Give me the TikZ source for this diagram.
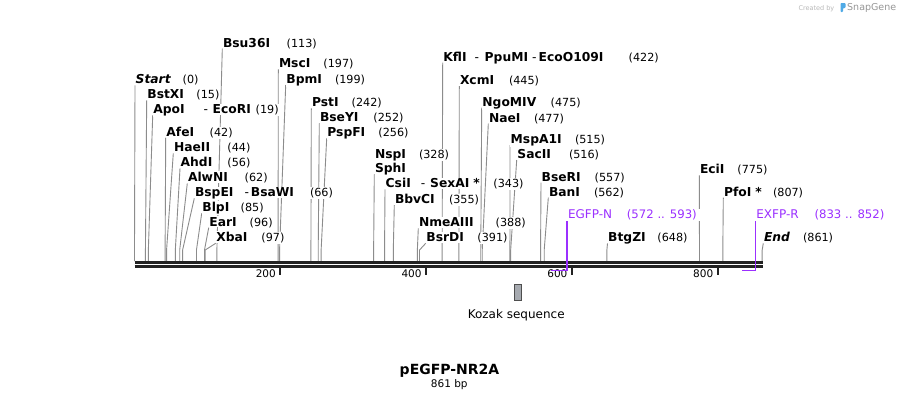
\documentclass[tikz,border=0pt]{standalone}
\usepackage{fontspec}
\setmainfont{DejaVu Sans}
\pgfdeclarelayer{bg}
\pgfsetlayers{bg,main}
\definecolor{sline}{RGB}{140,140,140}
\definecolor{bbone}{RGB}{34,34,34}
\definecolor{primer}{RGB}{155,48,255}
\definecolor{kozakfill}{RGB}{166,170,176}
\definecolor{sgblue}{RGB}{80,170,230}
\definecolor{sggray}{RGB}{150,150,150}
\definecolor{sglight}{RGB}{185,185,185}
\tikzset{
  siteline/.style={draw=sline, line width=0.9pt},
  ename/.style={anchor=base west, inner xsep=0.5pt, inner ysep=1pt, fill=white, font=\fontsize{12.3}{14}\selectfont\bfseries},
  esep/.style={anchor=base west, inner xsep=0.5pt, inner ysep=1pt, fill=white, font=\fontsize{12.3}{14}\selectfont},
  enum/.style={anchor=base west, inner xsep=0.5pt, inner ysep=1pt, fill=white, font=\fontsize{11.2}{13}\selectfont},
  plabel/.style={anchor=base west, inner xsep=0.5pt, inner ysep=1pt, fill=white, text=primer, font=\fontsize{12}{14}\selectfont},
  pnum/.style={anchor=base west, inner xsep=6pt, inner ysep=1pt, fill=white, text=primer, font=\fontsize{11.7}{14}\selectfont},
  primerline/.style={draw=primer, line width=1.4pt},
  tickmark/.style={draw=bbone, line width=2pt},
  ticklabel/.style={anchor=base east, inner sep=0.5pt, font=\fontsize{10.5}{12}\selectfont},
}
\newcommand\cutline[4]{%
  \coordinate (#1-top) at (#2,#3+6);
  \coordinate (#1-bend) at ({134.5+#4*0.729},250);
  \coordinate (#1-site) at ({134.5+#4*0.729},261);
  \begin{pgfonlayer}{bg}
    \draw[siteline] (#1-top) -- (#1-bend) -- (#1-site);
  \end{pgfonlayer}}
\newcommand\enz[7]{%
  \cutline{#1}{#3}{#4}{#7}
  \node[ename] (#1) at (#3,#4+4.4) {#2};
  \node[enum] (#1-n) at (#5,#4+4.4) {#6};}
\begin{document}
\begin{tikzpicture}[x=1pt,y=-1pt]
\useasboundingbox (0,0) rectangle (899,400);
\begin{pgfonlayer}{bg}
  \fill[white] (0,0) rectangle (899,400);
\end{pgfonlayer}

% enzyme sites
\enz{start}{\textit{Start}}{135}{79.3}{182}{(0)}{0}
\enz{bstxi}{BstXI}{146.7}{94.3}{195.7}{(15)}{15}
\enz{apoi}{ApoI}{152.7}{109.3}{255}{(19)}{19}
\node[esep] (apoi-d) at (203,113.7) {-};
\node[ename] (apoi-b) at (212,113.7) {EcoRI};
\enz{afei}{AfeI}{165.7}{131.7}{209}{(42)}{42}
\enz{haeii}{HaeII}{173.3}{147.3}{226.7}{(44)}{44}
\enz{ahdi}{AhdI}{180}{162.3}{226.7}{(56)}{56}
\enz{alwni}{AlwNI}{187.3}{177.3}{244}{(62)}{62}
\enz{bspei}{BspEI}{194.3}{192.3}{309.3}{(66)}{66}
\node[esep] (bspei-d) at (244,196.7) {-};
\node[ename] (bspei-b) at (250.2,196.7) {BsaWI};
\enz{blpi}{BlpI}{201.7}{207.3}{240}{(85)}{85}
\enz{eari}{EarI}{208.7}{221.7}{249}{(96)}{96}
\enz{xbai}{XbaI}{215.7}{237.3}{260.7}{(97)}{97}
\enz{bsu}{Bsu36I}{222.3}{42.7}{286}{(113)}{113}
\enz{msci}{MscI}{278.3}{63.3}{322.7}{(197)}{197}
\enz{bpmi}{BpmI}{285.7}{79}{334.3}{(199)}{199}
\enz{psti}{PstI}{311.3}{102.3}{351}{(242)}{242}
\enz{bseyi}{BseYI}{319.3}{117.3}{372.7}{(252)}{252}
\enz{pspfi}{PspFI}{326.7}{132.3}{377.7}{(256)}{256}
\cutline{sphi}{374.3}{168.3}{328}
\node[ename] (nspi) at (374.3,158.4) {NspI};
\node[enum] (nspi-n) at (418.3,158.4) {(328)};
\node[ename] (sphi) at (374.3,172.7) {SphI};
\enz{csii}{CsiI}{385}{183.3}{492.7}{(343)}{343}
\node[esep] (csii-d) at (420.2,187.7) {-};
\node[ename] (csii-b) at (429.5,187.7) {SexAI\hspace{4pt}*};
\enz{bbvci}{BbvCI}{394.3}{199}{448.3}{(355)}{355}
\enz{nme}{NmeAIII}{418.3}{222.3}{495}{(388)}{388}
\enz{bsrdi}{BsrDI}{425.7}{237.3}{476.7}{(391)}{391}
\enz{kfli}{KflI}{442.7}{56.7}{628}{(422)}{422}
\node[esep] (kfli-d1) at (474,61.1) {-};
\node[ename] (kfli-b) at (484,61.1) {PpuMI};
\node[esep] (kfli-d2) at (531.5,61.1) {-};
\node[ename] (kfli-c) at (538,61.1) {EcoO109I};
\enz{xcmi}{XcmI}{459.3}{80}{508.3}{(445)}{445}
\enz{ngo}{NgoMIV}{481.7}{101.7}{550}{(475)}{475}
\enz{naei}{NaeI}{488.3}{117.7}{533.3}{(477)}{477}
\enz{mspa}{MspA1I}{510}{139}{574.3}{(515)}{515}
\enz{sacii}{SacII}{516.7}{154}{568.3}{(516)}{516}
\enz{bseri}{BseRI}{541}{176.7}{594}{(557)}{557}
\enz{bani}{BanI}{548.3}{191.7}{593.3}{(562)}{562}
\enz{btgzi}{BtgZI}{607.5}{237.3}{656.7}{(648)}{648}
\enz{ecii}{EciI}{699.3}{169.3}{736.7}{(775)}{775}
\enz{pfoi}{PfoI\hspace{4pt}*}{723.3}{191.7}{772.3}{(807)}{807}
\enz{end}{\textit{End}}{763.3}{237.3}{802.3}{(861)}{861}

% backbone
\coordinate (bbL1) at (134.5,262.4);
\coordinate (bbR1) at (763,262.4);
\coordinate (bbL2) at (134.5,266.4);
\coordinate (bbR2) at (763,266.4);
\draw[bbone, line width=3pt] (bbL1) -- (bbR1);
\draw[bbone, line width=2.6pt] (bbL2) -- (bbR2);

% ticks
\foreach \v in {200,400,600,800}{
  \coordinate (tk\v) at ({134.5+\v*0.729},267.7);
  \draw[tickmark] (tk\v) -- ++(0,7);
  \node[ticklabel] (tl\v) at ({134.5+\v*0.729-3.8},277.8) {\v};
}

% primers
\node[plabel] (egfpn) at (567.3,218.4) {EGFP-N};
\node[pnum] (egfpn-n) at (620.7,218.4) {(572 .. 593)};
\coordinate (egfpn-top) at ({134.5+593*0.729},221);
\coordinate (egfpn-c) at ({134.5+593*0.729},270.7);
\coordinate (egfpn-s) at ({134.5+572*0.729},270.7);
\draw[primerline] (egfpn-top) -- (egfpn-c) -- (egfpn-s);

\node[plabel] (exfpr) at (755.7,218.4) {EXFP-R};
\node[pnum] (exfpr-n) at (808.3,218.4) {(833 .. 852)};
\coordinate (exfpr-top) at ({134.5+852*0.729},221);
\coordinate (exfpr-c) at ({134.5+852*0.729},270.7);
\coordinate (exfpr-s) at ({134.5+833*0.729},270.7);
\draw[primerline] (exfpr-top) -- (exfpr-c) -- (exfpr-s);

% Kozak feature
\node[draw=bbone!80, fill=kozakfill, line width=0.8pt, minimum width=7.4pt, minimum height=16.7pt, inner sep=0pt] (kozak) at (518,292.3) {};
\node[anchor=base, inner sep=0pt, font=\fontsize{12}{14}\selectfont] (kozak-l) at (516.2,318) {Kozak sequence};

% title
\node[anchor=base, inner sep=0pt, font=\fontsize{14}{16}\selectfont\bfseries] (title) at (449.5,374) {pEGFP-NR2A};
\node[anchor=base, inner sep=0pt, font=\fontsize{10.5}{12}\selectfont] (size) at (449.3,387.5) {861 bp};

% credit
\node[anchor=base east, inner sep=0pt, text=sglight, font=\fontsize{6.5}{8}\selectfont] (credit) at (834.5,10) {Created by};
\fill[sgblue, rounded corners=0.8pt] (840.5,3) -- (845.5,3) -- (845.5,8) -- (843,8) -- (843,12) -- (840.5,12) -- cycle;
\node[anchor=base west, inner sep=0pt, text=sggray, font=\fontsize{9.5}{11}\selectfont] (sg) at (847,10.5) {SnapGene};
\end{tikzpicture}
\end{document}
